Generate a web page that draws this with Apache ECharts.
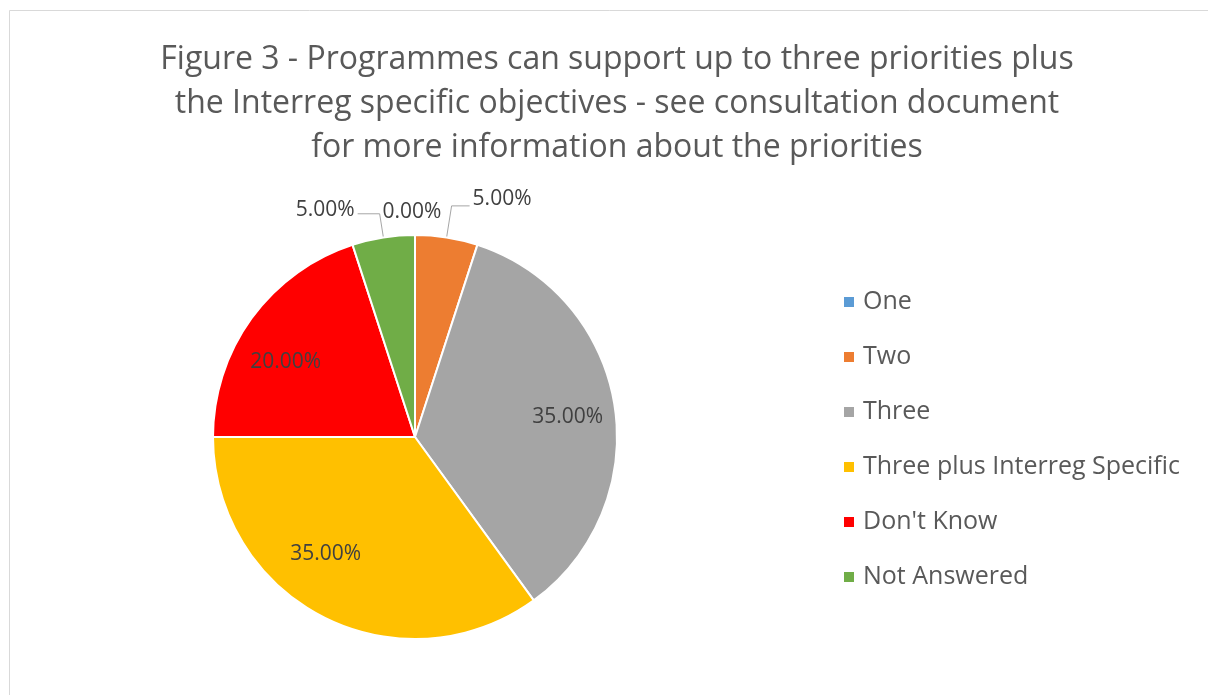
<!DOCTYPE html>
<html>
<head>
<meta charset="utf-8">
<script src="https://cdn.jsdelivr.net/npm/echarts@6/dist/echarts.min.js"></script>
<style>
html,body{margin:0;padding:0;background:#fff;}
#chart{width:1208px;height:695px;}
</style>
</head>
<body>
<div id="chart"></div>
<script>
const titleText = 'Figure 3 - Programmes can support up to three priorities plus\nthe Interreg specific objectives - see consultation document\nfor more information about the priorities';
const categories = ['One', 'Two', 'Three', 'Three plus Interreg Specific', "Don't Know", 'Not Answered'];
const values = [0, 5, 35, 35, 20, 5];
const colors = ['#5B9BD5', '#ED7D31', '#A5A5A5', '#FFC000', '#FF0000', '#70AD47'];
const outsideLabel = [true, true, false, false, false, true];

const FONT = '"Open Sans", sans-serif';
const fmt = p => p.value.toFixed(2) + '%';

const lineCfg = [
  {show: false, length: 22, length2: 0},
  {show: true, length: 32, length2: 18},
  null, null, null,
  {show: true, length: 24, length2: 22}
];
const outerShift = [{align: 'center', dx: 0, dy: -1}, {dy: -7}, {}, {}, {}, {dy: -4}];
const innerShift = [{}, {}, {dx: 2, dy: 4}, {dx: -20, dy: -19}, {dx: -6, dy: 15}, {}];

const mainData = categories.map((c, i) => ({
  name: c,
  value: values[i],
  itemStyle: {color: colors[i]},
  label: {show: outsideLabel[i]},
  labelLine: lineCfg[i] ? Object.assign({lineStyle: {color: '#a6a6a6', width: 1}, smooth: false}, lineCfg[i]) : {show: false}
}));
const innerData = categories.map((c, i) => ({
  name: c,
  value: values[i],
  label: {show: !outsideLabel[i]}
}));

const chart = echarts.init(document.getElementById('chart'), null, {renderer: 'canvas'});
chart.setOption({
  animation: false,
  backgroundColor: '#fff',
  graphic: [{
    type: 'rect', silent: true,
    shape: {x: 9.5, y: 10.5, width: 1400, height: 900},
    style: {fill: 'none', stroke: '#d9d9d9', lineWidth: 1}
  }],
  title: {
    text: titleText,
    left: 612, top: 33, textAlign: 'center',
    textStyle: {fontFamily: FONT, fontSize: 32, fontWeight: 'normal', color: '#595959', lineHeight: 44}
  },
  legend: {
    orient: 'vertical',
    left: 837, top: 283,
    itemWidth: 12, itemHeight: 12, itemGap: 27,
    icon: 'rect',
    data: categories,
    textStyle: {fontFamily: FONT, fontSize: 25, color: '#595959', lineHeight: 28, padding: [0, 0, 0, 3]}
  },
  series: [{
    type: 'pie',
    center: [415, 437],
    radius: [0, 202],
    startAngle: 90,
    clockwise: true,
    avoidLabelOverlap: false,
    itemStyle: {borderColor: '#fff', borderWidth: 2},
    label: {position: 'outside', formatter: fmt, fontFamily: FONT, fontSize: 21, color: '#404040', distanceToLabelLine: 3},
    labelLayout: p => outerShift[p.dataIndex] || {},
    data: mainData
  }, {
    type: 'pie',
    center: [415, 437],
    radius: [97, 202],
    startAngle: 90,
    clockwise: true,
    silent: true,
    avoidLabelOverlap: false,
    legendHoverLink: false,
    itemStyle: {color: 'rgba(0,0,0,0)', borderWidth: 0},
    emphasis: {disabled: true},
    label: {position: 'inside', formatter: fmt, fontFamily: FONT, fontSize: 21, color: '#404040'},
    labelLine: {show: false},
    labelLayout: p => innerShift[p.dataIndex] || {},
    data: innerData
  }]
});
</script>
</body>
</html>
